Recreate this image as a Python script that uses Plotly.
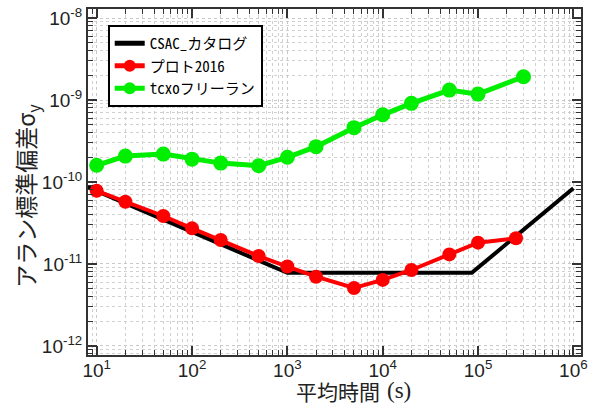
import plotly.graph_objects as go

# CSAC catalogue spec
csac_tau = [8, 1000, 86000, 1000000]
csac_adev = [8.7e-11, 7.8e-12, 7.8e-12, 8.4e-11]

# measured 2016
plot2016_tau = [10, 20, 50, 100, 200, 500, 1000, 2000, 5000, 10000, 20000, 50000, 100000, 250000]
plot2016_adev = [7.8e-11, 5.75e-11, 3.85e-11, 2.72e-11, 1.96e-11, 1.25e-11, 9.3e-12,
                 7.0e-12, 5.1e-12, 6.4e-12, 8.45e-12, 1.31e-11, 1.82e-11, 2.06e-11]

# TCXO free run
tcxo_tau = [10, 20, 50, 100, 200, 500, 1000, 2000, 5000, 10000, 20000, 50000, 100000, 300000]
tcxo_adev = [1.6e-10, 2.07e-10, 2.19e-10, 1.9e-10, 1.7e-10, 1.58e-10, 2.0e-10,
             2.7e-10, 4.6e-10, 6.6e-10, 9.1e-10, 1.32e-9, 1.18e-9, 1.92e-9]

names = ["CSAC_カタログ", "プロト2016", "tcxoフリーラン"]

x_ticks = [10, 100, 1000, 10000, 100000, 1000000]
x_labels = ["10<sup>1</sup>", "10<sup>2</sup>", "10<sup>3</sup>", "10<sup>4</sup>", "10<sup>5</sup>", "10<sup>6</sup>"]
y_ticks = [1e-12, 1e-11, 1e-10, 1e-9, 1e-8]
y_labels = ["10<sup>-12</sup>", "10<sup>-11</sup>", "10<sup>-10</sup>", "10<sup>-9</sup>", "10<sup>-8</sup>"]

x_title_main = "平均時間"
x_title_unit = "(s)"
y_title = "アラン標準偏差σ<sub>y</sub>"

fig = go.Figure()
fig.add_trace(go.Scatter(x=csac_tau, y=csac_adev, mode="lines", name=names[0],
                         line=dict(color="black", width=4)))
fig.add_trace(go.Scatter(x=plot2016_tau, y=plot2016_adev, mode="lines+markers", name=names[1],
                         line=dict(color="#ff0000", width=4),
                         marker=dict(color="#ff0000", size=14)))
fig.add_trace(go.Scatter(x=tcxo_tau, y=tcxo_adev, mode="lines+markers", name=names[2],
                         line=dict(color="#00ee00", width=5),
                         marker=dict(color="#00ee00", size=15)))

axis_common = dict(
    type="log", showline=True, linecolor="#333333", linewidth=2, mirror="allticks",
    ticks="inside", ticklen=9, tickwidth=1.5, tickcolor="#333333",
    showgrid=True, gridcolor="#c8c8c8", griddash="dot", gridwidth=1,
    zeroline=False, automargin=False,
    tickfont=dict(family="Liberation Sans, Arial, sans-serif", size=19, color="#222222"),
    minor=dict(ticks="inside", ticklen=5, tickcolor="#333333", tickwidth=1,
               showgrid=True, gridcolor="#d0d0d0", griddash="dot", gridwidth=1, dtick="D1"),
)

fig.update_xaxes(**axis_common, range=[0.909, 6.08], tickmode="array",
                 tickvals=x_ticks, ticktext=x_labels, ticklabelstandoff=-3)
fig.update_yaxes(**axis_common, range=[-12.11, -7.89], tickmode="array",
                 tickvals=y_ticks, ticktext=y_labels)

title_font = dict(family="Noto Sans CJK JP, sans-serif", size=21, color="#222222")
unit_font = dict(family="Liberation Serif, DejaVu Serif, serif", size=23, color="#222222")
fig.add_annotation(text=x_title_main, xref="paper", yref="paper", x=0.5963, y=-0.104,
                   xanchor="right", yanchor="middle", showarrow=False, font=title_font)
fig.add_annotation(text=x_title_unit, xref="paper", yref="paper", x=0.6023, y=-0.104,
                   xanchor="left", yanchor="middle", showarrow=False, font=unit_font)
fig.add_annotation(text=y_title, xref="paper", yref="paper", x=-0.124, y=0.46,
                   xanchor="center", yanchor="middle", textangle=-90, showarrow=False,
                   font=dict(family="Noto Sans CJK JP, sans-serif", size=23, color="#222222"))

fig.update_layout(
    width=592, height=405,
    margin=dict(l=88, r=11, t=9, b=50),
    paper_bgcolor="white", plot_bgcolor="white",
    showlegend=True,
    legend=dict(x=0.04, y=0.954, xanchor="left", yanchor="top",
                bgcolor="white", bordercolor="black", borderwidth=2,
                font=dict(family="Noto Sans Mono CJK JP, DejaVu Sans Mono, Noto Sans CJK JP, monospace",
                          size=15, color="black"),
                tracegroupgap=0, itemsizing="constant"),
)

fig.write_html("out.html", config={"displayModeBar": False},
               post_script="document.body.style.margin='0';document.body.style.overflow='hidden';")
